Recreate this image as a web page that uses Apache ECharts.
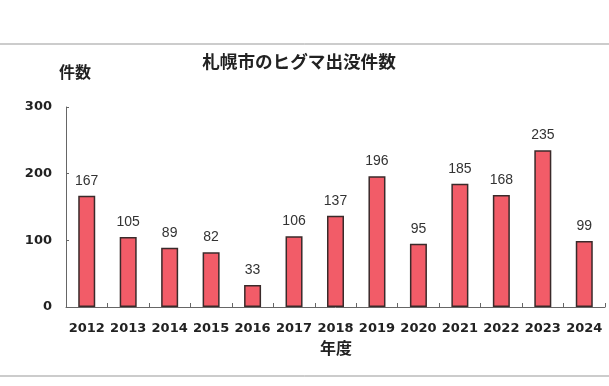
<!DOCTYPE html>
<html><head><meta charset="utf-8">
<script src="https://cdn.jsdelivr.net/npm/echarts@6/dist/echarts.min.js"></script>
<style>html,body{margin:0;padding:0;background:#fff}#c{width:609px;height:386px}</style>
</head><body><div id="c"></div>
<script>
const years = ['2012','2013','2014','2015','2016','2017','2018','2019','2020','2021','2022','2023','2024'];
const counts = [167,105,89,82,33,106,137,196,95,185,168,235,99];
const yTicks = [0,100,200,300];
const titleText = '札幌市のヒグマ出没件数';
const yName = '件数';
const xName = '年度';

const chart = echarts.init(document.getElementById('c'));
const font = '"Noto Sans CJK JP", "Liberation Sans", sans-serif';
chart.setOption({
  animation: false,
  backgroundColor: '#fff',
  title: {text: titleText, left: 294, top: 48, textAlign: 'center',
    textStyle: {fontFamily: font, fontSize: 17.6, fontWeight: 'bold', color: '#222'}},
  graphic: [
    {type: 'line', shape: {x1: 0, y1: 44, x2: 609, y2: 44}, style: {stroke: '#999', lineWidth: 1}},
    {type: 'line', shape: {x1: 0, y1: 376, x2: 609, y2: 376}, style: {stroke: '#999', lineWidth: 1}},
    {type: 'text', left: 59, top: 64, style: {text: yName, font: 'bold 16px "Noto Sans CJK JP"', fill: '#222'}},
    {type: 'text', left: 320, top: 340, style: {text: xName, font: 'bold 16px "Noto Sans CJK JP"', fill: '#222'}}
  ],
  grid: {left: 66, right: 4, top: 107, bottom: 79, containLabel: false},
  xAxis: {type: 'category', data: years,
    axisLine: {lineStyle: {color: '#666'}},
    axisTick: {show: true, inside: true, length: 4, lineStyle: {color: '#666'}},
    axisLabel: {interval: 0, hideOverlap: false, fontFamily: '"DejaVu Sans", sans-serif', fontWeight: 'bold', fontSize: 13, color: '#222', margin: 15}
  },
  yAxis: {type: 'value', min: 0, max: 300, interval: 100,
    splitLine: {show: false},
    axisLine: {show: true, lineStyle: {color: '#666'}},
    axisTick: {show: true, inside: true, length: 3, lineStyle: {color: '#666'}},
    axisLabel: {fontFamily: '"DejaVu Sans", sans-serif', fontWeight: 'bold', fontSize: 13, color: '#222', margin: 14,
      formatter: v => yTicks.includes(v) ? String(v) : ''}
  },
  series: [{type: 'bar', data: counts, barWidth: 17,
    itemStyle: {color: '#f25c68', borderColor: '#3a2a2a', borderWidth: 1.5},
    label: {show: true, position: 'top', distance: 8, fontFamily: '"Liberation Sans", sans-serif', fontSize: 14, color: '#333'}
  }]
});
</script></body></html>
